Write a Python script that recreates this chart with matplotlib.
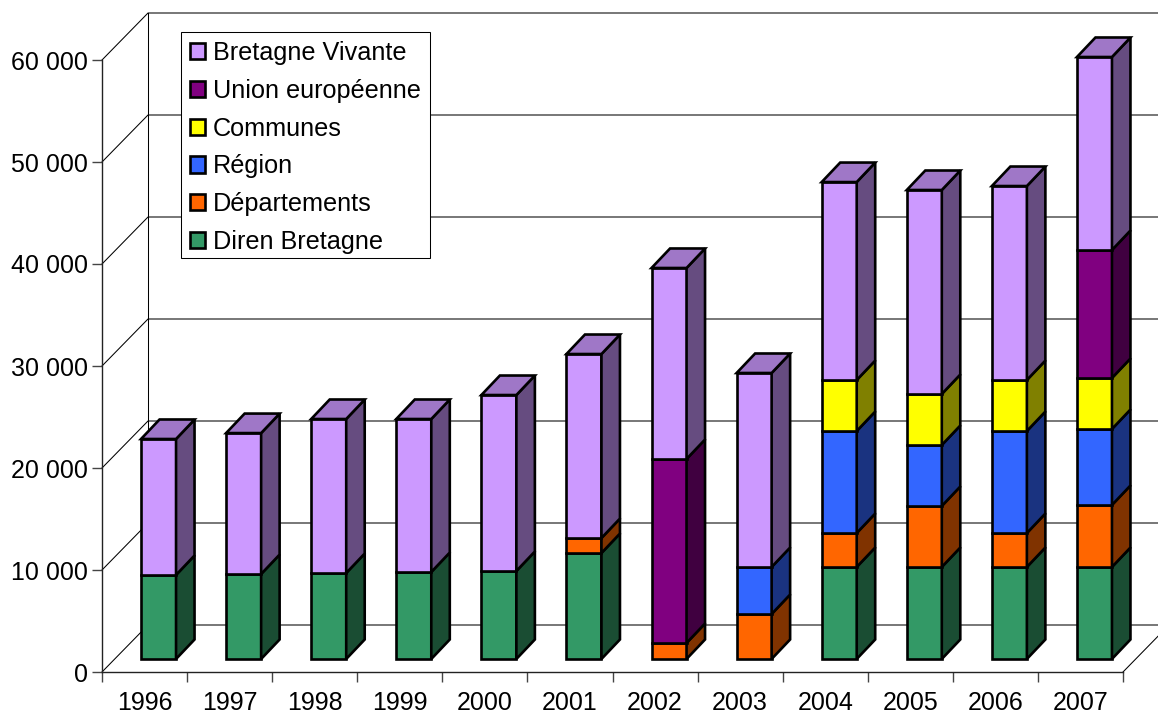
import matplotlib
matplotlib.use("Agg")
import matplotlib.pyplot as plt
from matplotlib.patches import Patch, Polygon, Rectangle

plt.rcParams['font.family'] = ['Liberation Sans', 'DejaVu Sans']

# Data
years = ['1996', '1997', '1998', '1999', '2000', '2001', '2002', '2003', '2004', '2005', '2006', '2007']
y_labels = ['0', '10 000', '20 000', '30 000', '40 000', '50 000', '60 000']
y_values = [0, 10000, 20000, 30000, 40000, 50000, 60000]

diren = [8240, 8330, 8430, 8530, 8630, 10390, 0, 0, 9020, 9020, 9020, 9020]
departements = [0, 0, 0, 0, 0, 1470, 1570, 4410, 3330, 5980, 3330, 6080]
region = [0, 0, 0, 0, 0, 0, 0, 4610, 10000, 5980, 10000, 7450]
communes = [0, 0, 0, 0, 0, 0, 0, 0, 5000, 5000, 5000, 5000]
union_eu = [0, 0, 0, 0, 0, 0, 18040, 0, 0, 0, 0, 12550]
bretagne = [13330, 13820, 15100, 15000, 17250, 18040, 18725, 19020, 19410, 20000, 19020, 18920]

series = [
    ('Diren Bretagne', diren, '#339966', '#1a4d33'),
    ('Départements', departements, '#ff6600', '#803300'),
    ('Région', region, '#3366ff', '#1a3380'),
    ('Communes', communes, '#ffff00', '#808000'),
    ('Union européenne', union_eu, '#800080', '#400040'),
    ('Bretagne Vivante', bretagne, '#cc99ff', '#664c80'),
]
top_color = '#9f77c7'

# Figure, axes = front plane of the 3D box
W, H = 1158, 715
fig = plt.figure(figsize=(W / 100, H / 100), dpi=100)
ax = fig.add_axes([102 / W, (H - 672) / H, 1021 / W, 612 / H])
ax.set_xlim(0, 12)
ax.set_ylim(0, 60000)
ax.patch.set_alpha(0)

px_x = 12 / 1021      # data units per pixel
px_y = 60000 / 612

# Wall depth, bar placement and bar depth
wall_dx, wall_dy = 46 * px_x, 47 * px_y
front_dx, front_dy = 14 * px_x, 13 * px_y
bar_dx, bar_dy = 18.5 * px_x, 19.5 * px_y
bar_w = 35 * px_x
edge_lw = 1.9
line_col = '#000000'

# Back wall and floor
for v in y_values:
    ax.plot([0, wall_dx, 12 + wall_dx], [v, v + wall_dy, v + wall_dy], color=line_col, lw=0.75,
            clip_on=False, zorder=1)
ax.plot([wall_dx, wall_dx], [wall_dy, 60000 + wall_dy], color=line_col, lw=0.75, clip_on=False, zorder=1)
ax.plot([12, 12 + wall_dx], [0, wall_dy], color=line_col, lw=0.75, clip_on=False, zorder=1)

# Stacked bars
for i in range(len(years)):
    x0 = i + 0.5 + front_dx - bar_w / 2
    x1 = x0 + bar_w
    base = front_dy
    for name, vals, col, side in series:
        v = vals[i]
        if v == 0:
            continue
        ax.bar(x0, v, width=bar_w, bottom=base, align='edge', color=col, edgecolor='black',
               linewidth=edge_lw, clip_on=False, zorder=3)
        ax.add_patch(Polygon([(x1, base), (x1, base + v), (x1 + bar_dx, base + v + bar_dy),
                              (x1 + bar_dx, base + bar_dy)],
                             closed=True, facecolor=side, edgecolor='black', linewidth=edge_lw,
                             clip_on=False, zorder=3))
        base += v
    ax.add_patch(Polygon([(x0, base), (x1, base), (x1 + bar_dx, base + bar_dy), (x0 + bar_dx, base + bar_dy)],
                         closed=True, facecolor=top_color, edgecolor='black', linewidth=edge_lw,
                         clip_on=False, zorder=3))

# Axes
for s in ['top', 'right']:
    ax.spines[s].set_visible(False)
for s in ['left', 'bottom']:
    ax.spines[s].set_color('#222222')
    ax.spines[s].set_linewidth(1.0)
    ax.spines[s].set_zorder(2)
ax.set_yticks(y_values)
ax.set_yticklabels(y_labels, fontsize=18)
ax.set_xticks(range(13))
ax.set_xticklabels([])
ax.set_xticks([i + 0.5 for i in range(12)], minor=True)
ax.set_xticklabels(years, minor=True, fontsize=18)
ax.tick_params(axis='y', length=7.2, width=1.0, color='#444444', pad=3, labelcolor='black')
ax.tick_params(axis='x', which='major', length=7.4, width=1.0, color='#444444')
ax.tick_params(axis='x', which='minor', length=0, pad=14, labelcolor='black')

# Legend: frame drawn separately so it can match the box exactly
ax.add_patch(Rectangle((181 / W, (H - 258) / H), 249 / W, 226 / H, transform=fig.transFigure,
                       facecolor='white', edgecolor='black', linewidth=0.75, clip_on=False, zorder=4))
handles = [Patch(facecolor=col, edgecolor='black', linewidth=edge_lw, label=name)
           for name, vals, col, side in reversed(series)]
leg = ax.legend(handles=handles, loc='upper left', bbox_to_anchor=(181 / W, (H - 32) / H),
                bbox_transform=fig.transFigure, fontsize=18.15, frameon=False, borderaxespad=0,
                borderpad=0.35, handlelength=0.61, handleheight=0.61, handletextpad=0.3,
                labelspacing=0.55)
leg.set_zorder(5)

plt.savefig('out.png', dpi=100)
plt.close()
